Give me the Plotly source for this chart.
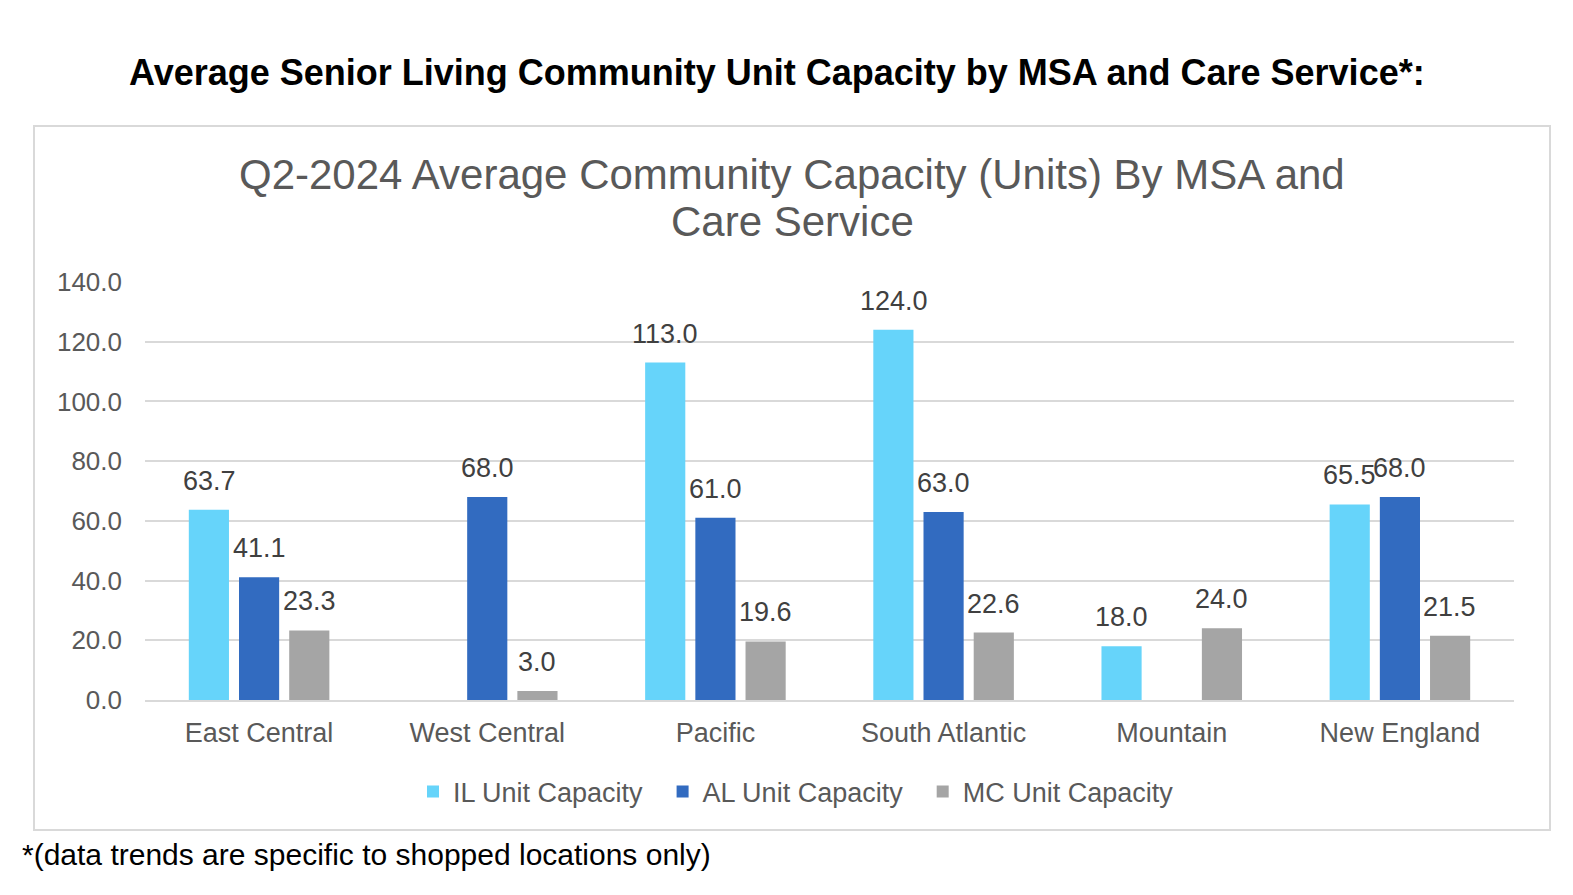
import plotly.graph_objects as go

# ── Data ─────────────────────────────────────────────────────────────────────

regions = ["East Central", "West Central", "Pacific", "South Atlantic", "Mountain", "New England"]
il_capacity = [63.7, None, 113.0, 124.0, 18.0, 65.5]
al_capacity = [41.1, 68.0, 61.0, 63.0, None, 68.0]
mc_capacity = [23.3, 3.0, 19.6, 22.6, 24.0, 21.5]

series_names = ["IL Unit Capacity", "AL Unit Capacity", "MC Unit Capacity"]
y_ticks = [0, 20, 40, 60, 80, 100, 120, 140]
title_lines = ["Q2-2024 Average Community Capacity (Units) By MSA and", "Care Service"]

# ── Plot ──────────────────────────────────────────────────────────────────────

W, H = 1573, 895
OFF = 8  # page body margin, shift everything up/left by it
FONT = "Liberation Sans, Arial, sans-serif"
COLORS = ["#66D4FA", "#326BC0", "#A5A5A5"]
SLOT = 50  # px between bars in a group


def px_x(v):
    return (v - OFF) / W


def px_y(v):
    return 1 - (v - OFF) / H


fig = go.Figure()
all_series = [il_capacity, al_capacity, mc_capacity]
for i, (name, vals, color) in enumerate(zip(series_names, all_series, COLORS)):
    fig.add_trace(go.Bar(
        x=regions,
        y=vals,
        name=name + "\u00a0\u00a0",
        marker=dict(color=color, line=dict(width=0)),
        hoverinfo="x+y+name",
    ))
    # value labels above the bars
    for region, v in zip(regions, vals):
        if v is None:
            continue
        fig.add_annotation(
            x=region, y=v, xref="x", yref="y",
            text=f"{v:.1f}", showarrow=False,
            xshift=(i - 1) * SLOT, yshift=29,
            xanchor="center", yanchor="middle",
            font=dict(family=FONT, size=27, color="#404040"),
        )

fig.update_layout(
    width=W,
    height=H,
    margin=dict(l=0, r=0, t=0, b=0, autoexpand=False),
    paper_bgcolor="white",
    plot_bgcolor="white",
    barmode="group",
    bargap=0.34,
    bargroupgap=0.2,
    font=dict(family=FONT, color="#595959"),
    xaxis=dict(
        domain=[px_x(145), px_x(1514)],
        showline=True,
        linecolor="#D9D9D9",
        linewidth=2,
        tickfont=dict(size=27, color="#595959"),
        ticklabelstandoff=8,
        showgrid=False,
        automargin=False,
    ),
    yaxis=dict(
        domain=[px_y(700), px_y(282)],
        range=[0, 140],
        tickvals=y_ticks,
        tickformat=".1f",
        gridcolor="#D9D9D9",
        gridwidth=2,
        zeroline=False,
        tickfont=dict(size=26, color="#595959"),
        ticklabelstandoff=22,
        automargin=False,
    ),
    legend=dict(
        orientation="h",
        x=px_x(803),
        xanchor="center",
        y=px_y(792),
        yanchor="middle",
        font=dict(size=27, color="#595959"),
        itemwidth=30,
        traceorder="normal",
    ),
    showlegend=True,
)

# chart frame
fig.add_shape(
    type="rect", xref="paper", yref="paper",
    x0=px_x(34), x1=px_x(1550), y0=px_y(830), y1=px_y(126),
    line=dict(color="#D9D9D9", width=2), layer="below",
)

# outer heading
fig.add_annotation(
    text="<b>Average Senior Living Community Unit Capacity by MSA and Care Service*:</b>",
    xref="paper", yref="paper", x=px_x(777), y=px_y(72),
    xanchor="center", yanchor="middle", showarrow=False,
    font=dict(family=FONT, size=36, color="black"),
)

# chart title, one annotation per line for tighter spacing
for line, ypos in zip(title_lines, [175, 222]):
    fig.add_annotation(
        text=line,
        xref="paper", yref="paper", x=px_x(792), y=px_y(ypos),
        xanchor="center", yanchor="middle", showarrow=False,
        font=dict(family=FONT, size=42, color="#595959"),
    )

# footnote
fig.add_annotation(
    text="*(data trends are specific to shopped locations only)",
    xref="paper", yref="paper", x=px_x(20), y=px_y(854),
    xanchor="left", yanchor="middle", showarrow=False,
    font=dict(family=FONT, size=30, color="black"),
)

fig.write_html("out.html")
